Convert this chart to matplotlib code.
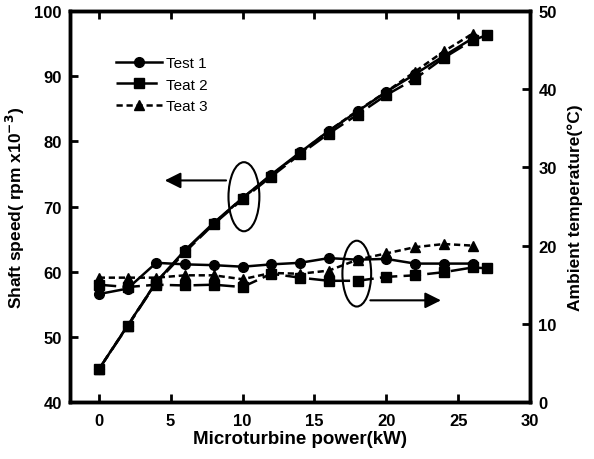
import matplotlib
matplotlib.use("Agg")
import matplotlib.pyplot as plt
from matplotlib.patches import Ellipse

plt.rcParams['font.family'] = ['Liberation Sans', 'DejaVu Sans']

# microturbine power (kW)
power = [0, 2, 4, 6, 8, 10, 12, 14, 16, 18, 20, 22, 24, 26]
power2 = [0, 2, 4, 6, 8, 10, 12, 14, 16, 18, 20, 22, 24, 26, 27]

# shaft speed (rpm x 10^-3), left axis
speed1 = [45.0, 51.7, 58.4, 63.3, 67.5, 71.3, 74.9, 78.3, 81.6, 84.6, 87.6, 90.3, 93.1, 95.8]
speed2 = [45.0, 51.6, 58.3, 63.0, 67.3, 71.1, 74.6, 78.0, 81.2, 84.1, 87.1, 89.6, 92.8, 95.5, 96.3]
speed3 = [45.0, 51.7, 58.4, 63.2, 67.4, 71.3, 74.8, 78.2, 81.6, 84.7, 87.6, 90.7, 93.8, 96.5]

# ambient temperature (C), right axis
temp1 = [13.8, 14.5, 17.8, 17.6, 17.5, 17.3, 17.6, 17.8, 18.4, 18.2, 18.3, 17.7, 17.7, 17.7]
temp2 = [15.0, 14.7, 15.0, 14.9, 15.0, 14.7, 16.4, 15.9, 15.5, 15.5, 16.0, 16.2, 16.6, 17.2, 17.1]
temp3 = [15.9, 15.9, 15.9, 16.2, 16.2, 15.7, 16.5, 16.4, 16.8, 18.2, 19.0, 19.8, 20.2, 20.0]

labels = ['Test 1', 'Teat 2', 'Teat 3']

fig = plt.figure(figsize=(5.94, 4.6), dpi=100)
ax = fig.add_axes([70 / 594, 1 - 403 / 460, 460 / 594, 391 / 460])
ax2 = ax.twinx()

lw = 1.8
st1 = dict(color='black', lw=lw, marker='o', ms=7, linestyle='-')
st2 = dict(color='black', lw=lw, marker='s', ms=7, linestyle=(0, (7, 2.5)))
st3 = dict(color='black', lw=lw, marker='^', ms=7, linestyle=(0, (2.5, 1.5)))

l1, = ax.plot(power, speed1, **st1)
l2, = ax.plot(power2, speed2, **st2)
l3, = ax.plot(power, speed3, **st3)
ax2.plot(power, temp1, **st1)
ax2.plot(power2, temp2, **st2)
ax2.plot(power, temp3, **st3)

ax.set_xlim(-2, 30)
ax.set_ylim(40, 100)
ax2.set_ylim(0, 50)
ax.set_xticks([0, 5, 10, 15, 20, 25, 30])
ax.set_yticks([40, 50, 60, 70, 80, 90, 100])
ax2.set_yticks([0, 10, 20, 30, 40, 50])

for a in (ax, ax2):
    for s in a.spines.values():
        s.set_linewidth(2.5)
    a.tick_params(direction='in', length=6, width=2, labelsize=12, pad=6)
    for t in a.get_xticklabels() + a.get_yticklabels():
        t.set_fontweight('bold')
ax.tick_params(top=True, right=False)
ax.tick_params(axis='x', pad=8)
ax2.tick_params(left=False)

ax.set_xlabel('Microturbine power(kW)', fontsize=13.5, fontweight='bold', labelpad=1)
ax.set_ylabel('Shaft speed( rpm x10$^{\\mathbf{-3}}$)', fontsize=12.5, fontweight='bold', labelpad=5)
ax2.set_ylabel('Ambient temperature(\u00b0C)', fontsize=12.5, fontweight='bold', labelpad=8)

# ellipses with arrows pointing to the matching axis
ax.add_patch(Ellipse((10.1, 71.5), 2.15, 10.6, fill=False, lw=1.5, color='black'))
ax.annotate('', xy=(4.4, 74.0), xytext=(9.05, 74.0),
            arrowprops=dict(arrowstyle='-|>', color='black', lw=1.5, mutation_scale=24))
ax.add_patch(Ellipse((17.95, 59.7), 2.0, 10.1, fill=False, lw=1.5, color='black'))
ax.annotate('', xy=(24.0, 55.6), xytext=(18.7, 55.6),
            arrowprops=dict(arrowstyle='-|>', color='black', lw=1.5, mutation_scale=24))

ax.legend([l1, l2, l3], labels, loc='upper left', bbox_to_anchor=(0.1, 0.885),
          frameon=False, fontsize=11, handlelength=3.0, borderpad=0,
          borderaxespad=0, labelspacing=0.5, handletextpad=0.3)

fig.savefig('out.png', dpi=100)
